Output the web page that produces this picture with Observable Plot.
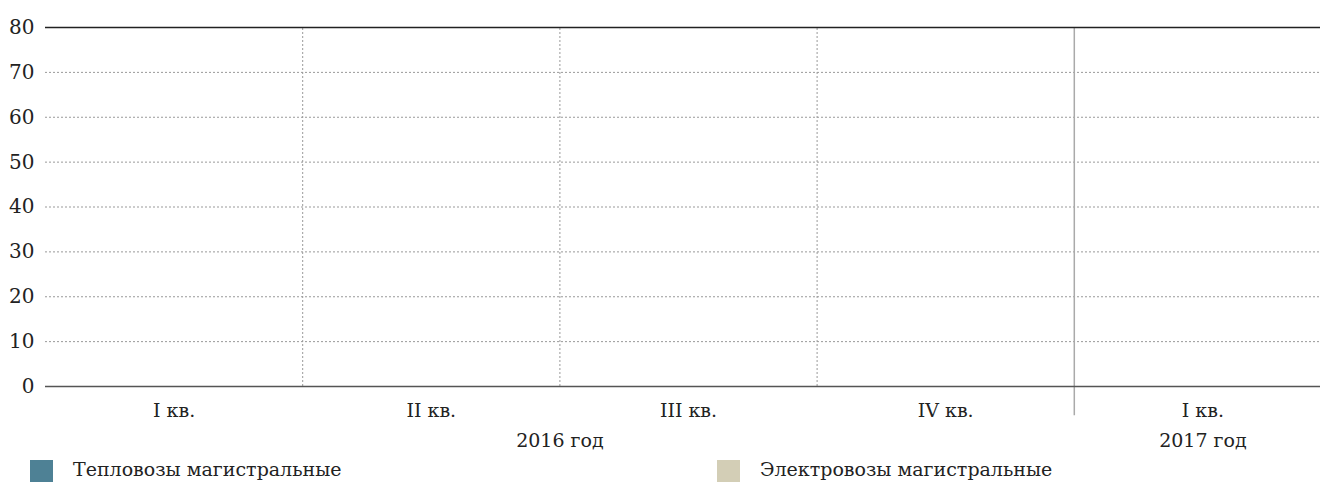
<!DOCTYPE html>
<html><head><meta charset="utf-8">
<script src="https://cdn.jsdelivr.net/npm/d3@7"></script>
<script src="https://cdn.jsdelivr.net/npm/@observablehq/plot@0.6"></script>
<style>
html,body{margin:0;padding:0;overflow:hidden;background:#fff;width:1320px;height:482px}
#chart{height:455px;overflow:visible}
#legend{position:relative;height:27px;font-family:"DejaVu Serif",serif;font-size:19px;color:#222}
.item{position:absolute;top:5px;display:flex;align-items:flex-start}
.sw{width:23px;height:22px;margin-right:20px}
.lab{line-height:19px;margin-top:0px}
</style></head>
<body>
<div id="chart"></div>
<div id="legend"></div>
<script>
// Data
const quarterKeys = ["2016-I","2016-II","2016-III","2016-IV","2017-I"];
const quarterLabels = ["I кв.","II кв.","III кв.","IV кв.","I кв."];
const yearLabels = ["2016 год","2017 год"];
const yearSpans = [[0,4],[4,5]];
const seriesNames = ["Тепловозы магистральные","Электровозы магистральные"];
const seriesColors = ["#4e8195","#d3ceb6"];
const teplovozy = [0,0,0,0,0];
const elektrovozy = [0,0,0,0,0];
const yTicks = [0,10,20,30,40,50,60,70,80];

const rows = [];
quarterKeys.forEach((k,i)=>{
  rows.push({i, key:k, series:seriesNames[0], value:teplovozy[i]});
  rows.push({i, key:k, series:seriesNames[1], value:elektrovozy[i]});
});
const qRows = quarterKeys.map((k,i)=>({i, label:quarterLabels[i]}));
const yRows = yearLabels.map((l,j)=>({label:l, x:(yearSpans[j][0]+yearSpans[j][1])/2}));

const chart = Plot.plot({
  width: 1331,
  height: 455,
  marginLeft: 45,
  marginRight: 0,
  marginTop: 27,
  marginBottom: 69,
  style:{fontFamily:"DejaVu Serif, serif", fontSize:"18px", color:"#222", background:"#fff", overflow:"visible", maxWidth:"none"},
  x:{domain:[0,quarterKeys.length], axis:null},
  y:{domain:[0,80], axis:null},
  color:{domain:seriesNames, range:seriesColors},
  marks:[
    Plot.ruleY(yTicks.slice(1,-1), {stroke:"#999", strokeDasharray:"2,2", strokeWidth:1}),
    Plot.ruleX([1,2,3], {y1:0, y2:80, stroke:"#999", strokeDasharray:"2,2", strokeWidth:1}),
    Plot.ruleX([4], {y1:-6.5, y2:80, stroke:"#aaa", strokeWidth:1.5}),
    Plot.rectY(rows, Plot.stackY({x1:d=>d.i+0.2, x2:d=>d.i+0.8, y:"value", fill:"series"})),
    Plot.ruleY([80], {stroke:"#222", strokeWidth:1.5}),
    Plot.ruleY([0], {stroke:"#555", strokeWidth:1.5}),
    Plot.text(yTicks, {x:0, y:d=>d, text:d=>String(d), textAnchor:"end", dx:-11, fill:"#222", fontSize:20}),
    Plot.text(qRows, {x:d=>d.i+0.5, frameAnchor:"bottom", dy:30, text:"label", fill:"#222", fontSize:19}),
    Plot.text(yRows, {x:"x", frameAnchor:"bottom", dy:60, text:"label", fill:"#222", fontSize:19})
  ]
});
document.getElementById("chart").appendChild(chart);

const leg = document.getElementById("legend");
const legX = [30, 717];
seriesNames.forEach((n,i)=>{
  const it = document.createElement("div");
  it.className="item"; it.style.left = legX[i]+"px";
  it.innerHTML = `<div class="sw" style="background:${seriesColors[i]}"></div><div class="lab">${n}</div>`;
  leg.appendChild(it);
});
</script>
</body></html>
